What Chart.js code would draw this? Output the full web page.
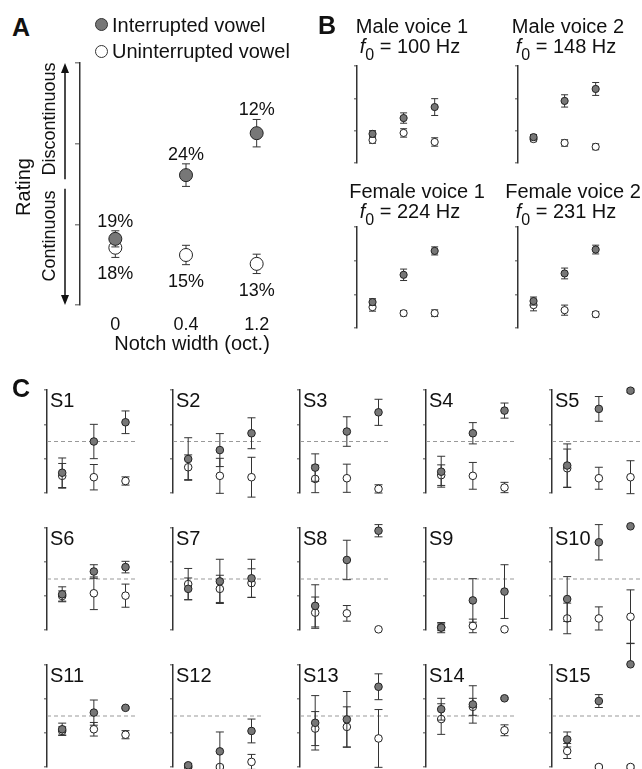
<!DOCTYPE html>
<html lang="en">
<head>
<meta charset="UTF-8">
<title>Continuity ratings vs notch width</title>
<script src="https://cdn.jsdelivr.net/npm/chart.js@4.4.1/dist/chart.umd.min.js"></script>
<style>
  body { margin: 0; background: #fff; }
  #fig { position: relative; width: 642px; height: 769px; overflow: hidden;
         font-family: "Liberation Sans", Arial, sans-serif; color: #111; }
  #fig canvas { position: absolute; }
  .t { position: absolute; white-space: nowrap; line-height: 1; }
  .t sub { font-size: 0.8em; vertical-align: -0.45em; line-height: 0; }
  .dot { position: absolute; width: 13px; height: 13px; border-radius: 50%;
         border: 1px solid #333; box-sizing: border-box; }
</style>
</head>
<body>
<div id="fig"></div>
<script>
Chart.defaults.font.family = '"Liberation Sans", Arial, sans-serif';
Chart.defaults.color = '#111';

// ---- data ----
const notchLabels = ['0', '0.4', '1.2'];
const midline = 2.5;

// A: pooled ratings
const aIntMean = [1.82, 2.61, 3.13];
const aIntErr = [0.10, 0.14, 0.17];
const aUniMean = [1.71, 1.62, 1.51];
const aUniErr = [0.12, 0.12, 0.12];
const aIntPct = ['19%', '24%', '12%'];
const aUniPct = ['18%', '15%', '13%'];

// B: per voice
const voiceNames = ['Male voice 1', 'Male voice 2', 'Female voice 1', 'Female voice 2'];
const voiceF0 = [100, 148, 224, 231];
const bIntMean = [[1.90, 2.39, 2.73], [1.80, 2.92, 3.29], [1.77, 2.58, 3.29], [1.80, 2.62, 3.33]];
const bIntErr = [[0.10, 0.16, 0.26], [0.08, 0.19, 0.20], [0.10, 0.17, 0.12], [0.12, 0.16, 0.13]];
const bUniMean = [[1.71, 1.93, 1.65], [1.74, 1.62, 1.50], [1.62, 1.44, 1.44], [1.68, 1.53, 1.41]];
const bUniErr = [[0.10, 0.13, 0.13], [0.08, 0.10, 0.09], [0.12, 0.08, 0.10], [0.17, 0.15, 0.08]];

// C: per subject (an error given as [down, up] is one-sided)
const subjects = ['S1', 'S2', 'S3', 'S4', 'S5', 'S6', 'S7', 'S8', 'S9', 'S10', 'S11', 'S12', 'S13', 'S14', 'S15'];
const cIntMean = [
  [1.59, 2.50, 3.06], [1.99, 2.25, 2.74], [1.74, 2.79, 3.35], [1.62, 2.74, 3.40], [1.80, 3.45, 3.98],
  [2.05, 2.72, 2.85], [2.21, 2.43, 2.52], [1.71, 3.06, 3.92], [1.07, 1.87, 2.13], [1.91, 3.58, 4.05],
  [2.11, 2.60, 2.74], [1.05, 1.46, 2.06], [2.30, 2.40, 3.36], [2.70, 2.84, 3.02], [1.81, 2.94, 4.02]
];
const cIntErr = [
  [0.43, 0.50, 0.33], [0.62, 0.48, 0.45], [0.40, 0.43, 0.38], [0.45, 0.31, 0.22], [0.63, 0.36, 0.05],
  [0.22, 0.20, 0.17], [0.32, 0.65, 0.56], [0.62, 0.58, 0.18], [0.15, 0.64, 0.79], [0.66, 0.52, 0],
  [0.18, 0.37, 0.03], [0.05, 0.57, 0.35], [0.80, 0.82, 0.38], [0.32, 0.55, 0.03], [0.22, 0.19, [0, 0.62]]
];
const cUniMean = [
  [1.50, 1.46, 1.35], [1.75, 1.50, 1.46], [1.41, 1.43, 1.12], [1.52, 1.50, 1.16], [1.72, 1.43, 1.46],
  [2.00, 2.08, 2.01], [2.35, 2.21, 2.38], [1.51, 1.49, 1.02], [1.08, 1.12, 1.02], [1.34, 1.34, 1.39],
  [2.06, 2.11, 1.95], [1.00, 1.00, 1.15], [2.13, 2.18, 1.84], [2.41, 2.77, 2.08], [1.47, 1.00, 1.00]
];
const cUniErr = [
  [0.36, 0.37, 0.12], [0.36, 0.51, 0.58], [0.40, 0.41, 0.12], [0.30, 0.39, 0.15], [0.56, 0.32, 0.48],
  [0.15, 0.48, 0.34], [0.46, 0.40, 0.42], [0.46, 0.23, 0], [0.10, 0.20, 0], [0.45, 0.34, 0.79],
  [0.12, 0.20, 0.12], [0.03, 0.05, 0.22], [0.50, 0.59, 0.85], [0.45, 0.25, 0.16], [0.22, 0.05, 0.05]
];

// ---- helpers ----
const fig = document.getElementById('fig');
const M = 30;

function addText(html, x, baseline, size, opt) {
  opt = opt || {};
  const d = document.createElement('div');
  d.className = 't';
  d.innerHTML = html;
  d.style.fontSize = size + 'px';
  d.style.left = x + 'px';
  d.style.top = (baseline - 0.8465 * size) + 'px';
  if (opt.bold) d.style.fontWeight = 'bold';
  if (opt.center) d.style.transform = 'translateX(-50%)';
  fig.appendChild(d);
}

function addVText(text, cx, cy, size) {
  const d = document.createElement('div');
  d.className = 't';
  d.textContent = text;
  d.style.fontSize = size + 'px';
  d.style.left = cx + 'px';
  d.style.top = cy + 'px';
  d.style.transform = 'translate(-50%, -50%) rotate(-90deg)';
  fig.appendChild(d);
}

const errorBars = {
  id: 'errorBars',
  beforeDatasetDraw(chart, args) {
    const ds = chart.data.datasets[args.index];
    if (!ds.errors) return;
    const ctx = chart.ctx, y = chart.scales.y;
    ctx.save();
    ctx.strokeStyle = '#333';
    ctx.lineWidth = 1;
    args.meta.data.forEach((pt, i) => {
      const e = ds.errors[i];
      if (!e) return;
      const lo = Array.isArray(e) ? e[0] : e, hi = Array.isArray(e) ? e[1] : e;
      const v = ds.data[i].y;
      const t = y.getPixelForValue(v + hi), b = y.getPixelForValue(v - lo);
      ctx.beginPath();
      ctx.moveTo(pt.x, t); ctx.lineTo(pt.x, b);
      if (hi) { ctx.moveTo(pt.x - ds.cap, t); ctx.lineTo(pt.x + ds.cap, t); }
      if (lo) { ctx.moveTo(pt.x - ds.cap, b); ctx.lineTo(pt.x + ds.cap, b); }
      ctx.stroke();
    });
    ctx.restore();
  }
};

function pointSet(vals, errs, filled, r, cap) {
  return {
    data: vals.map((v, i) => ({ x: i, y: v })),
    errors: errs,
    cap: cap,
    pointRadius: r,
    pointBackgroundColor: filled ? '#777' : '#fff',
    pointBorderColor: '#222',
    pointBorderWidth: 1,
    showLine: false,
    clip: false
  };
}

function midlineSet(x0, x1) {
  return {
    data: [{ x: x0, y: midline }, { x: x1, y: midline }],
    showLine: true, borderColor: '#999', borderWidth: 1, borderDash: [4, 3],
    pointRadius: 0, clip: false
  };
}

function makePlot(x0, y0, w, h, datasets, o) {
  const tl = o.tick || 3;
  const xExtra = o.xLabels ? 40 : 0;
  const padL = o.padLeft || M;
  const c = document.createElement('canvas');
  c.width = Math.round(w) + tl + padL + M;
  c.height = h + 2 * M + xExtra;
  c.style.left = (x0 - tl - padL) + 'px';
  c.style.top = (y0 - M) + 'px';
  fig.appendChild(c);
  return new Chart(c, {
    type: 'scatter',
    data: { datasets: datasets },
    options: {
      responsive: false,
      animation: false,
      events: [],
      layout: { padding: { left: padL, right: M, top: M, bottom: M } },
      plugins: { legend: { display: false }, tooltip: { enabled: false } },
      scales: {
        x: {
          type: 'linear', min: o.xMin, max: o.xMax, display: !!o.xLabels,
          grid: { display: false, drawTicks: false },
          border: { display: false },
          ticks: { font: { size: 18 }, color: '#111', padding: 9, maxRotation: 0, autoSkip: false,
                   callback: v => notchLabels[v] },
          afterBuildTicks: s => { s.ticks = notchLabels.map((_, i) => ({ value: i })); },
          afterFit: s => { s.height = xExtra; }
        },
        y: {
          min: 1, max: 4,
          grid: { drawOnChartArea: false, drawTicks: true, tickLength: tl, color: '#888', lineWidth: 1.5 },
          border: { display: true, color: '#333', width: 1.5 },
          ticks: { display: false, stepSize: 1 },
          afterFit: s => { s.width = tl; }
        }
      }
    },
    plugins: [errorBars].concat(o.plugins || [])
  });
}

// ---- panel A extras ----
const pctLabels = {
  id: 'pctLabels',
  afterDatasetsDraw(chart) {
    const ctx = chart.ctx, y = chart.scales.y;
    const pts0 = chart.getDatasetMeta(0).data, pts1 = chart.getDatasetMeta(1).data;
    ctx.save();
    ctx.font = '18px "Liberation Sans", Arial, sans-serif';
    ctx.fillStyle = '#111';
    ctx.textAlign = 'center';
    ctx.textBaseline = 'alphabetic';
    aIntPct.forEach((s, i) => ctx.fillText(s, pts0[i].x, y.getPixelForValue(aIntMean[i] + aIntErr[i]) - 4));
    aUniPct.forEach((s, i) => ctx.fillText(s, pts1[i].x, y.getPixelForValue(aUniMean[i] - aUniErr[i]) + 22));
    ctx.restore();
  }
};

const ratingArrows = {
  id: 'ratingArrows',
  afterDraw(chart) {
    const ctx = chart.ctx, y = chart.scales.y;
    const x = chart.chartArea.left - 15;
    const top = y.getPixelForValue(4), bot = y.getPixelForValue(1);
    const gapHi = y.getPixelForValue(midline + 0.06), gapLo = y.getPixelForValue(midline - 0.06);
    ctx.save();
    ctx.strokeStyle = '#111';
    ctx.fillStyle = '#111';
    ctx.lineWidth = 1.5;
    ctx.beginPath();
    ctx.moveTo(x, gapHi); ctx.lineTo(x, top + 8);
    ctx.moveTo(x, gapLo); ctx.lineTo(x, bot - 8);
    ctx.stroke();
    ctx.beginPath();
    ctx.moveTo(x, top); ctx.lineTo(x - 4, top + 10); ctx.lineTo(x + 4, top + 10); ctx.closePath();
    ctx.moveTo(x, bot); ctx.lineTo(x - 4, bot - 10); ctx.lineTo(x + 4, bot - 10); ctx.closePath();
    ctx.fill();
    ctx.restore();
  }
};

// ---- panel A ----
makePlot(80, 63, 212, 242, [
  pointSet(aIntMean, aIntErr, true, 6.5, 4),
  pointSet(aUniMean, aUniErr, false, 6.5, 4)
], { tick: 5, xMin: -0.5, xMax: 2.5, xLabels: true, padLeft: 40, plugins: [pctLabels, ratingArrows] });

// ---- panel B ----
const bAxisX = [357, 518, 357, 518];
const bTop = [66, 66, 227, 227];
const bH = [97, 97, 101, 101];
const bTitleX = [412, 568, 417, 573];
const bF0X = [410, 566, 410, 566];
const bTitleY = [33, 33, 198, 198];
voiceNames.forEach((name, k) => {
  makePlot(bAxisX[k], bTop[k], 86.8, bH[k], [
    pointSet(bIntMean[k], bIntErr[k], true, 3.6, 3.5),
    pointSet(bUniMean[k], bUniErr[k], false, 3.6, 3.5)
  ], { tick: 3, xMin: -0.5, xMax: 2.3 });
});

// ---- panel C ----
const cAxisX = [47, 173, 300, 426, 552];
const cTop = [390, 528, 665];
const cH = [103, 102, 102];
subjects.forEach((s, k) => {
  const col = k % 5, row = Math.floor(k / 5);
  makePlot(cAxisX[col], cTop[row], 87.6, cH[row], [
    pointSet(cIntMean[k], cIntErr[k], true, 3.8, 4),
    pointSet(cUniMean[k], cUniErr[k], false, 3.8, 4),
    midlineSet(-0.48, 2.3)
  ], { tick: 3, xMin: -0.48, xMax: 2.3 });
});

// ---- text ----
addText('A', 12, 36, 25, { bold: true });
addText('B', 318, 34, 25, { bold: true });
addText('C', 12, 397, 25, { bold: true });

const dot1 = document.createElement('div');
dot1.className = 'dot'; dot1.style.background = '#777';
dot1.style.left = '94.5px'; dot1.style.top = '17.5px';
fig.appendChild(dot1);
const dot2 = document.createElement('div');
dot2.className = 'dot'; dot2.style.background = '#fff';
dot2.style.left = '94.5px'; dot2.style.top = '44.5px';
fig.appendChild(dot2);
addText('Interrupted vowel', 112, 32, 20);
addText('Uninterrupted vowel', 112, 58, 20);

addVText('Rating', 23, 187, 20);
addVText('Discontinuous', 49, 119, 18);
addVText('Continuous', 49, 236, 18);
addText('Notch width (oct.)', 192, 350, 20, { center: true });

voiceNames.forEach((name, k) => {
  addText(name, bTitleX[k], bTitleY[k], 20, { center: true });
  addText('<i>f</i><sub>0</sub> = ' + voiceF0[k] + ' Hz', bF0X[k], bTitleY[k] + 20, 20, { center: true });
});

subjects.forEach((s, k) => {
  const col = k % 5, row = Math.floor(k / 5);
  addText(s, cAxisX[col] + 3, cTop[row] + 17, 20);
});
</script>
</body>
</html>
